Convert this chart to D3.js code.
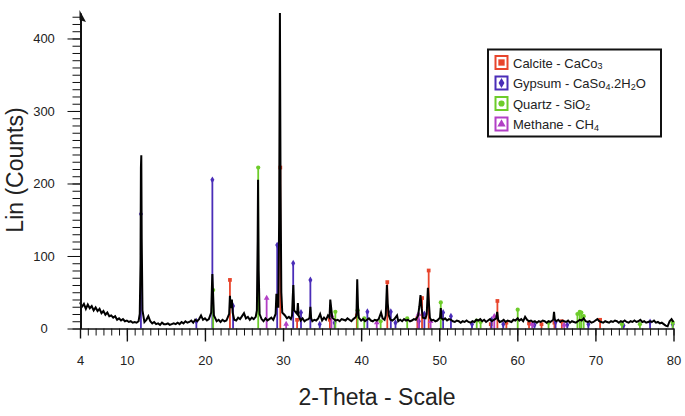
<!DOCTYPE html>
<meta charset="utf-8">
<style>
body { margin: 0; background: #fff; }
text { font-family: "Liberation Sans", Arial, sans-serif; fill: #222; }
.axis path, .axis line { stroke: #111; }
</style>
<body>
<script src="https://cdn.jsdelivr.net/npm/d3@7"></script>
<script>

// background counts, read every 0.25 deg starting at 4 deg
var bgStart = 4, bgStep = 0.25;
var bgCounts = [
  36, 30, 34, 27,  33, 28, 31, 25,  29, 24, 27, 21,  24, 19, 22, 17,   // 4-7
  18, 15, 17, 12,  14, 11, 13, 10,  11,  9, 10,  8,   9,  8, 10, 11,   // 8-11
  10,  9, 12, 17,  10,  7,  9,  6,   7,  5,  8,  6,   6,  7,  5,  6,   // 12-15
   7,  6,  8,  6,   9,  7, 10,  8,   9, 11,  8, 12,  10, 13, 18, 12,   // 16-19
  14, 11, 13, 16,  14, 11, 10, 12,   9, 12, 10, 11,  13, 12, 14, 12,   // 20-23
  11, 15, 13, 17,  21, 14, 16, 12,  15, 13, 16, 14,  12, 13, 10, 14,   // 24-27
  11, 13, 15, 12,  14, 13, 16, 18,  15, 18, 14, 16,  13, 15, 17, 14,   // 28-31
  13, 11, 14, 10,  12, 13, 11, 10,  12, 11, 14, 13,  11, 15, 12, 18,   // 32-35
  14, 16, 13, 11,  12, 10, 13, 12,  11, 14, 12, 10,  13, 15, 14, 12,   // 36-39
  11, 13, 10, 12,  14, 11, 10, 12,  11, 13, 16, 14,  12, 13, 14, 12,   // 40-43
  11, 13, 14, 10,  12, 10, 13, 11,  12, 10, 11, 13,  12, 14, 15, 13,   // 44-47
  12, 14, 13, 15,  11, 12, 10, 11,  13, 15, 12, 14,  11, 13, 12, 10,   // 48-51
   9, 11, 10,  8,  10,  9, 11,  9,   8, 10,  9, 12,  11, 13, 10, 12,   // 52-55
   9, 11, 13, 10,  12, 13, 11,  9,  10, 12,  9, 11,  10,  9, 12, 11,   // 56-59
  12, 11, 13, 10,  13, 12, 10, 11,   9, 10,  8, 10,   9, 11, 10,  8,   // 60-63
  10,  9, 11, 12,  10, 12,  9, 11,  10,  9, 11,  8,  10,  9,  8, 10,   // 64-67
  12, 11, 14, 10,   9, 10,  8,  9,  11, 13, 10,  9,   8, 10,  9,  8,   // 68-71
  10,  9, 11, 10,   8, 10,  9, 11,   9,  8, 10,  9,  11,  9, 10, 12,   // 72-75
   9, 10,  8,  9,  10,  9, 11,  8,   9,  7,  8,  6,   4,  3, 10, 13,   // 76-79
   9                                                                    // 80
];

// sharp reflections of the measured pattern [2theta, counts]
var peakPoints = [
  [11.65, 20], [11.75, 90], [11.8, 222], [11.85, 239], [11.9, 125], [12.0, 25],
  [20.8, 22], [20.9, 60], [20.95, 75], [21.05, 45], [21.15, 18],
  [23.1, 20], [23.2, 45], [23.3, 28], [23.45, 40], [23.55, 22],
  [26.65, 25], [26.75, 120], [26.8, 205], [26.88, 80], [27.0, 20],
  [29.05, 20], [29.15, 48], [29.25, 30],
  [29.4, 30], [29.5, 150], [29.6, 435], [29.68, 200], [29.78, 50], [29.9, 22],
  [31.15, 18], [31.25, 45], [31.32, 60], [31.42, 25],
  [31.8, 20], [31.9, 35], [32.0, 18],
  [33.4, 15], [33.5, 30], [33.6, 14],
  [34.75, 20],
  [35.95, 15], [36.05, 40], [36.15, 30], [36.3, 15],
  [39.4, 18], [39.5, 68], [39.6, 30], [39.7, 15],
  [42.55, 22],
  [43.15, 18], [43.3, 60], [43.4, 35], [43.55, 18],
  [44.6, 18],
  [47.3, 18], [47.45, 30], [47.6, 46], [47.75, 28], [47.9, 15],
  [48.4, 20], [48.55, 56], [48.65, 40], [48.8, 15],
  [50.1, 15], [50.2, 28], [50.3, 14],
  [57.3, 14], [57.42, 23], [57.55, 12],
  [60.05, 14],
  [61.0, 16],
  [64.6, 12], [64.7, 23], [64.8, 12]
];

// reference stick patterns [2theta, height]
var calcite = [[23.2, 67], [29.65, 222], [31.8, 12], [36.0, 12], [39.45, 18], [43.35, 64],
  [47.2, 14], [47.8, 42], [48.65, 80], [56.6, 6], [57.45, 38], [58.6, 8], [61.5, 7],
  [63.1, 6], [64.75, 8], [65.7, 10], [70.6, 12]];
var gypsum = [[11.8, 158], [18.9, 10], [20.95, 205], [23.6, 31], [29.25, 115], [31.3, 90],
  [32.3, 22], [33.5, 67], [34.7, 6], [36.6, 8], [40.8, 23], [43.8, 23], [44.4, 8],
  [47.4, 10], [48.1, 20], [50.5, 22], [51.5, 17], [54.2, 6], [56.7, 12], [58.2, 6],
  [62.2, 5], [64.9, 9], [66.4, 5], [69.1, 6], [73.6, 4], [77.0, 9], [79.9, 6]];
var quartz = [[21.05, 53], [26.82, 222], [36.7, 23], [39.55, 25], [40.4, 14], [42.5, 10],
  [45.9, 14], [50.2, 36], [54.8, 11], [55.3, 9], [60.05, 26], [64.0, 8], [67.7, 20],
  [68.0, 23], [68.2, 22], [68.5, 17], [73.4, 6], [75.7, 6], [79.9, 8]];
var methane = [[27.9, 42], [30.4, 6], [36.2, 18], [42.0, 8], [47.35, 20], [48.9, 10],
  [57.05, 17], [61.9, 6], [66.0, 5]];

var phaseNames = ["Calcite", "Gypsum", "Quartz", "Methane"];
var phaseColors = ["#e8452c", "#4a2db8", "#6dcc2a", "#b23fc6"];
var phaseShapes = [d3.symbolSquare, d3.symbolDiamond, d3.symbolCircle, d3.symbolTriangle];
// legend text pieces: [text, isSubscript]
var phaseLabels = [
  [["Calcite - CaCo", 0], ["3", 1]],
  [["Gypsum - CaSo", 0], ["4", 1], [".2H", 0], ["2", 1], ["O", 0]],
  [["Quartz - SiO", 0], ["2", 1]],
  [["Methane - CH", 0], ["4", 1]]
];
var xTickLabels = [4, 10, 20, 30, 40, 50, 60, 70, 80];
var yTickLabels = [0, 100, 200, 300, 400];

var svg = d3.select("body").append("svg")
    .attr("width", 685)
    .attr("height", 416);

var x = d3.scaleLinear().domain([4, 80]).range([80, 673.5]);
var y = d3.scaleLinear().domain([0, 435]).range([328.5, 13.1]);

// merge background with sharp peaks
var pattern = bgCounts.map(function(c, i) { return [bgStart + i * bgStep, c]; })
  .filter(function(p) {
    return !peakPoints.some(function(q) { return Math.abs(q[0] - p[0]) < 0.12; });
  })
  .concat(peakPoints)
  .sort(function(a, b) { return a[0] - b[0]; });

// sticks of the reference patterns
var phases = [calcite, gypsum, quartz, methane];
phases.forEach(function(sticks, k) {
  var g = svg.append("g");
  g.selectAll("line")
    .data(sticks)
    .enter().append("line")
      .attr("x1", function(d) { return x(d[0]); })
      .attr("x2", function(d) { return x(d[0]); })
      .attr("y1", y(0))
      .attr("y2", function(d) { return y(d[1]); })
      .attr("stroke", phaseColors[k])
      .attr("stroke-width", 1.8);
  g.selectAll("path")
    .data(sticks)
    .enter().append("path")
      .attr("d", d3.symbol().type(phaseShapes[k]).size(14))
      .attr("transform", function(d) { return "translate(" + x(d[0]) + "," + y(d[1]) + ")"; })
      .attr("fill", phaseColors[k]);
});

// measured pattern
svg.append("path")
    .datum(pattern)
    .attr("fill", "none")
    .attr("stroke", "#000")
    .attr("stroke-width", 2)
    .attr("stroke-linejoin", "miter")
    .attr("d", d3.line()
      .x(function(d) { return x(d[0]); })
      .y(function(d) { return y(d[1]); }));

// x axis: minor then major ticks
svg.append("g")
    .attr("class", "axis")
    .attr("transform", "translate(0," + y(0) + ")")
    .call(d3.axisBottom(x).tickValues(d3.range(4, 81)).tickSize(7).tickSizeOuter(0).tickFormat(""))
    .call(function(g) { g.select(".domain").attr("stroke-width", 1.6); });
var xMajor = svg.append("g")
    .attr("class", "axis")
    .attr("transform", "translate(0," + y(0) + ")")
    .call(d3.axisBottom(x).tickValues(xTickLabels).tickSize(13).tickSizeOuter(0).tickPadding(14));
xMajor.select(".domain").remove();
xMajor.selectAll(".tick line").attr("stroke-width", 1.4)
    .filter(function(d) { return d === 4; }).attr("y2", 10);
xMajor.selectAll(".tick text").style("font-size", "13px");

// y axis
svg.append("g")
    .attr("class", "axis")
    .attr("transform", "translate(80.5,0)")
    .call(d3.axisLeft(y).tickValues(d3.range(0, 431, 10)).tickSize(8).tickSizeOuter(0).tickFormat(""))
    .call(function(g) { g.select(".domain").attr("stroke-width", 2); });
var yMajor = svg.append("g")
    .attr("class", "axis")
    .attr("transform", "translate(80.5,0)")
    .call(d3.axisLeft(y).tickValues(yTickLabels).tickSize(13).tickSizeOuter(0));
yMajor.select(".domain").remove();
yMajor.selectAll(".tick text")
    .attr("x", -36.5)
    .attr("text-anchor", "middle")
    .style("font-size", "13px");

// arrow head on y axis
svg.append("path")
    .attr("d", "M79.5,10 L86,22 L79.5,20 Z")
    .attr("fill", "#111");

// axis titles
svg.append("text")
    .attr("x", 377)
    .attr("y", 405)
    .attr("text-anchor", "middle")
    .style("font-size", "23px")
    .text("2-Theta - Scale");
svg.append("text")
    .attr("transform", "translate(23,170) rotate(-90)")
    .attr("text-anchor", "middle")
    .style("font-size", "23px")
    .text("Lin (Counts)");

// legend
var legend = svg.append("g");
legend.append("rect")
    .attr("x", 488).attr("y", 49.5)
    .attr("width", 173).attr("height", 87)
    .attr("fill", "#fff")
    .attr("stroke", "#111")
    .attr("stroke-width", 2);
var rowY = [62.5, 83, 103.5, 124];
phaseNames.forEach(function(name, k) {
  var row = legend.append("g").attr("transform", "translate(0," + rowY[k] + ")");
  row.append("rect")
      .attr("x", 495.5).attr("y", -6.5)
      .attr("width", 12).attr("height", 13)
      .attr("fill", "#fff")
      .attr("stroke", phaseColors[k])
      .attr("stroke-width", 2);
  row.append("path")
      .attr("d", d3.symbol().type(phaseShapes[k]).size(k === 0 ? 40 : 30))
      .attr("transform", "translate(501.5,0)")
      .attr("fill", phaseColors[k]);
  var t = row.append("text")
      .attr("x", 513)
      .attr("y", 5)
      .style("font-size", "13px");
  t.selectAll("tspan")
    .data(phaseLabels[k])
    .enter().append("tspan")
      .style("font-size", function(d) { return d[1] ? "9px" : "13px"; })
      .attr("dy", function(d, i) {
        var prev = i > 0 ? phaseLabels[k][i - 1][1] : 0;
        return (d[1] - prev) * 1.5;
      })
      .text(function(d) { return d[0]; });
});

</script>
</body>
